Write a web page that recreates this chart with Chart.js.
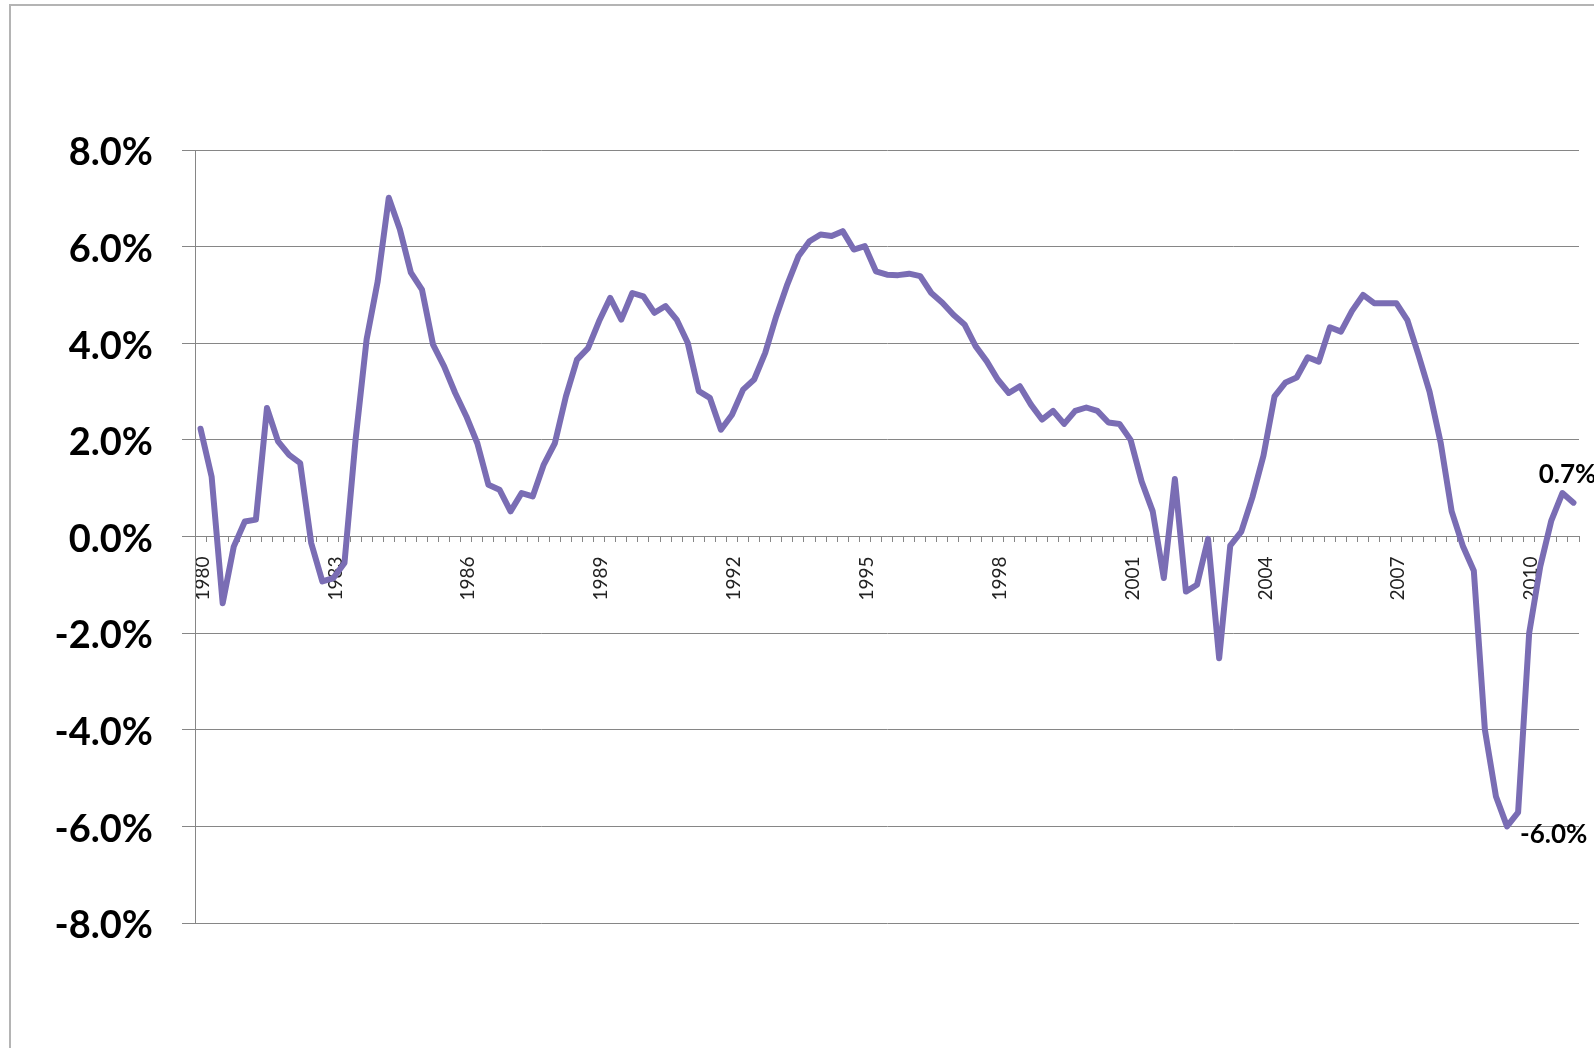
<!DOCTYPE html>
<html>
<head>
<meta charset="utf-8">
<script src="https://cdn.jsdelivr.net/npm/chart.js@4.4.1/dist/chart.umd.min.js"></script>
<style>
  html, body { margin: 0; padding: 0; background: #ffffff; overflow: hidden; }
  #wrap { position: relative; width: 1594px; height: 1048px; }
</style>
</head>
<body>
<div id="wrap"><canvas id="growthChart" width="1594" height="1048"></canvas></div>
<script>
// Quarterly series, 1980 Q1 through 2011 Q1
const firstYear = 1980;
const quarterCount = 125;
const categories = [];
for (let k = 0; k < quarterCount; k++) {
  categories.push((firstYear + Math.floor(k / 4)) + ' Q' + (k % 4 + 1));
}

// Years that carry a label on the category axis (first quarter of each)
const tickYears = ['1980', '1983', '1986', '1989', '1992', '1995', '1998', '2001', '2004', '2007', '2010'];

// Value-axis tick positions (percent)
const yTicks = [8, 6, 4, 2, 0, -2, -4, -6, -8];

// Year-over-year growth, percent
const growth = [
  2.23, 1.24, -1.38, -0.21, 0.31, 0.35, 2.66, 1.97, 1.69, 1.52,
  -0.14, -0.93, -0.86, -0.55, 2.00, 4.08, 5.28, 7.01, 6.36, 5.46,
  5.11, 3.97, 3.52, 2.97, 2.49, 1.93, 1.07, 0.97, 0.52, 0.90,
  0.83, 1.49, 1.93, 2.90, 3.66, 3.90, 4.46, 4.94, 4.49, 5.04,
  4.97, 4.63, 4.77, 4.49, 4.01, 3.01, 2.87, 2.21, 2.52, 3.04,
  3.25, 3.80, 4.56, 5.22, 5.80, 6.11, 6.25, 6.22, 6.32, 5.94,
  6.01, 5.49, 5.42, 5.41, 5.44, 5.39, 5.04, 4.84, 4.59, 4.39,
  3.94, 3.63, 3.25, 2.97, 3.11, 2.73, 2.42, 2.60, 2.33, 2.60,
  2.67, 2.60, 2.36, 2.33, 2.00, 1.14, 0.52, -0.86, 1.19, -1.14,
  -1.00, -0.05, -2.52, -0.19, 0.10, 0.81, 1.67, 2.90, 3.19, 3.29,
  3.71, 3.62, 4.33, 4.24, 4.67, 5.00, 4.83, 4.83, 4.83, 4.48,
  3.76, 3.00, 1.95, 0.52, -0.19, -0.71, -4.00, -5.38, -6.00, -5.71,
  -2.00, -0.62, 0.33, 0.90, 0.70
];

const lineColor = '#7a6db4';
const axisGray = '#868686';

// Gray frame around the chart area
const frame = {
  id: 'frame',
  beforeDraw(chart) {
    const ctx = chart.ctx;
    ctx.save();
    ctx.strokeStyle = '#b4b4b4';
    ctx.lineWidth = 2;
    ctx.beginPath();
    ctx.moveTo(10, chart.height + 5);
    ctx.lineTo(10, 5);
    ctx.lineTo(chart.width + 5, 5);
    ctx.stroke();
    ctx.restore();
  }
};

// Value labels on the lowest point and on the latest point
const valueLabels = {
  id: 'valueLabels',
  afterDatasetsDraw(chart) {
    const meta = chart.getDatasetMeta(0);
    const values = chart.data.datasets[0].data;
    const lastIdx = values.length - 1;
    const minIdx = values.indexOf(Math.min(...values));
    const ctx = chart.ctx;
    ctx.save();
    ctx.fillStyle = '#000000';
    ctx.font = 'bold 26px Lato';

    const last = meta.data[lastIdx];
    ctx.textAlign = 'center';
    ctx.textBaseline = 'bottom';
    ctx.fillText(values[lastIdx].toFixed(1) + '%', last.x - 6, last.y - 15);

    const low = meta.data[minIdx];
    ctx.textAlign = 'left';
    ctx.textBaseline = 'middle';
    ctx.fillText(values[minIdx].toFixed(1) + '%', low.x + 13, low.y + 8);
    ctx.restore();
  }
};

new Chart(document.getElementById('growthChart'), {
  type: 'line',
  data: {
    labels: categories,
    datasets: [{
      data: growth,
      borderColor: lineColor,
      borderWidth: 6,
      borderJoinStyle: 'round',
      borderCapStyle: 'round',
      pointRadius: 0,
      tension: 0,
      fill: false
    }]
  },
  options: {
    responsive: false,
    animation: false,
    devicePixelRatio: 1,
    layout: { padding: { left: 0, top: 150, right: 15, bottom: 125 } },
    plugins: {
      legend: { display: false },
      tooltip: { enabled: false },
      title: { display: false }
    },
    scales: {
      x: {
        type: 'category',
        offset: true,
        position: { y: 0 },
        afterFit(scale) {
          scale.height = 0;
          scale.paddingLeft = 0;
          scale.paddingRight = 0;
        },
        grid: {
          offset: true,
          drawOnChartArea: false,
          drawTicks: true,
          tickLength: 5,
          color: axisGray,
          tickColor: axisGray
        },
        border: { display: true, color: axisGray, width: 1 },
        ticks: {
          autoSkip: false,
          minRotation: 90,
          maxRotation: 90,
          padding: 15,
          labelOffset: 2,
          color: '#222222',
          font: { family: 'Lato', size: 19 },
          callback(value, index) {
            const lbl = categories[index];
            const yr = lbl.slice(0, 4);
            return (lbl.endsWith('Q1') && tickYears.includes(yr)) ? yr : '';
          }
        }
      },
      y: {
        min: yTicks[yTicks.length - 1],
        max: yTicks[0],
        afterFit(scale) { scale.width = 195; },
        afterBuildTicks(scale) { scale.ticks = yTicks.map(v => ({ value: v })); },
        grid: { color: axisGray, tickColor: axisGray, tickLength: 13, lineWidth: 1 },
        border: { display: true, color: axisGray, width: 1 },
        ticks: {
          padding: 29,
          labelOffset: 3,
          color: '#000000',
          font: { family: 'Lato', size: 38, weight: 'bold' },
          callback(value) { return Number(value).toFixed(1) + '%'; }
        }
      }
    }
  },
  plugins: [frame, valueLabels]
});
</script>
</body>
</html>
